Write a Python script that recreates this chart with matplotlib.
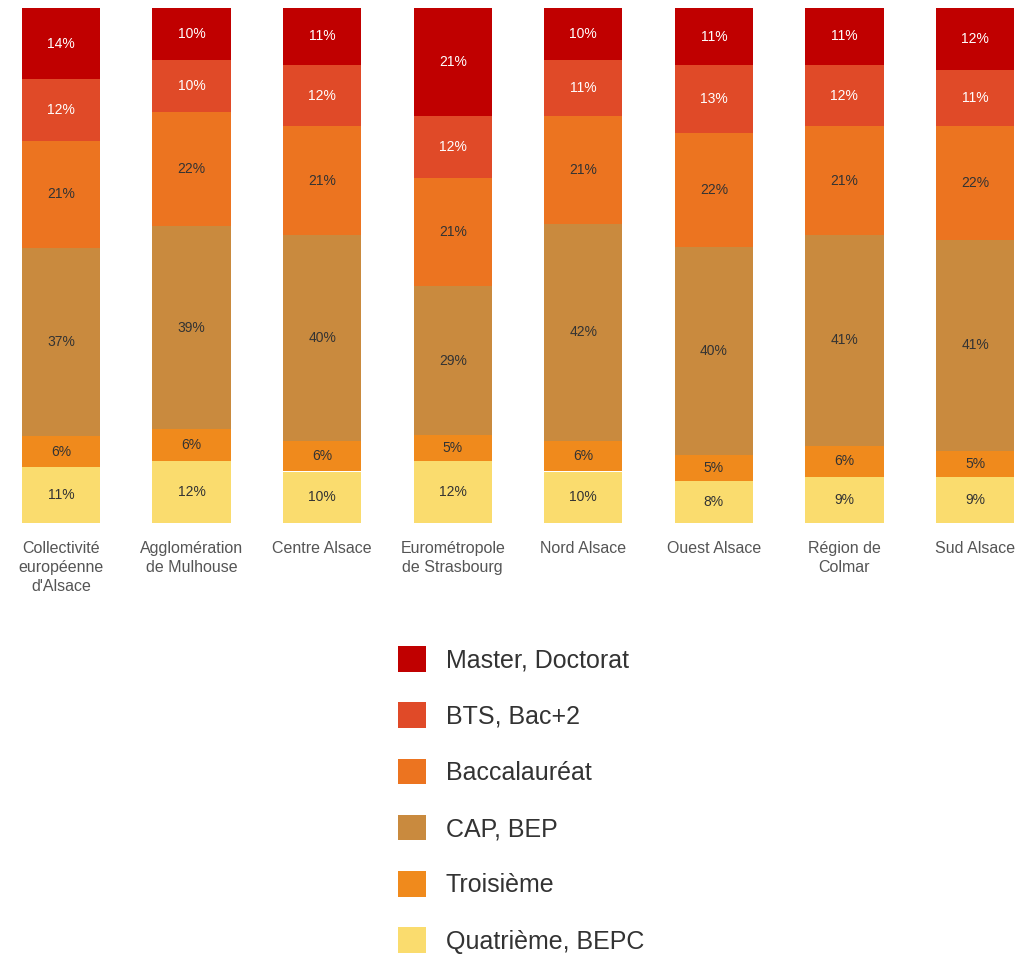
import numpy as np
import matplotlib.pyplot as plt
from matplotlib.patches import Patch

plt.rcParams['font.family'] = ['Liberation Sans', 'DejaVu Sans']

# Territories (x axis)
territoires = [
    "Collectivité\neuropéenne\nd'Alsace",
    "Agglomération\nde Mulhouse",
    "Centre Alsace",
    "Eurométropole\nde Strasbourg",
    "Nord Alsace",
    "Ouest Alsace",
    "Région de\nColmar",
    "Sud Alsace",
]

# Education levels, bottom to top
niveaux = ["Quatrième, BEPC", "Troisième", "CAP, BEP",
           "Baccalauréat", "BTS, Bac+2", "Master, Doctorat"]

quatrieme = [11, 12, 10, 12, 10, 8, 9, 9]
troisieme = [6, 6, 6, 5, 6, 5, 6, 5]
cap_bep = [37, 39, 40, 29, 42, 40, 41, 41]
bac = [21, 22, 21, 21, 21, 22, 21, 22]
bts = [12, 10, 12, 12, 11, 13, 12, 11]
master = [14, 10, 11, 21, 10, 11, 11, 12]

colors = ["#FADC6E", "#F08A1C", "#C98A3E", "#EC7420", "#E04A28", "#C00000"]
text_colors = ["#333333", "#333333", "#333333", "#333333", "white", "white"]

series = np.array([quatrieme, troisieme, cap_bep, bac, bts, master], dtype=float)
shares = series / series.sum(axis=0)

W, H = 1015, 958
fig = plt.figure(figsize=(W / 100, H / 100), dpi=100)
ax = fig.add_axes([0, 1 - 523 / H, 1, 515 / H])

x = np.arange(len(territoires))
bottom = np.zeros(len(territoires))
for i, name in enumerate(niveaux):
    ax.bar(x, shares[i], bottom=bottom, width=0.6, color=colors[i], linewidth=0)
    for j in range(len(x)):
        ax.text(x[j], bottom[j] + shares[i][j] / 2, f"{int(series[i][j])}%",
                ha='center', va='center', fontsize=10, color=text_colors[i])
    bottom += shares[i]

ax.set_xlim(-61 / 130.6, 7 + 40 / 130.6)
ax.set_ylim(0, 1)
ax.set_xticks(x)
ax.set_xticklabels(territoires, fontsize=11.5, color='#555555', linespacing=1.35)
ax.tick_params(axis='x', length=0, pad=13)
ax.set_yticks([])
for s in ax.spines.values():
    s.set_visible(False)

handles = [Patch(facecolor=colors[i], edgecolor='none') for i in range(len(niveaux))][::-1]
fig.legend(handles, niveaux[::-1], loc='upper left',
           bbox_to_anchor=(398 / W, 1 - 646 / H), frameon=False,
           fontsize=18, handlelength=1.1, handleheight=1.2,
           handletextpad=0.8, labelspacing=1.2, borderpad=0,
           borderaxespad=0, labelcolor='#333333')

plt.savefig('out.png', dpi=100, facecolor='white')
